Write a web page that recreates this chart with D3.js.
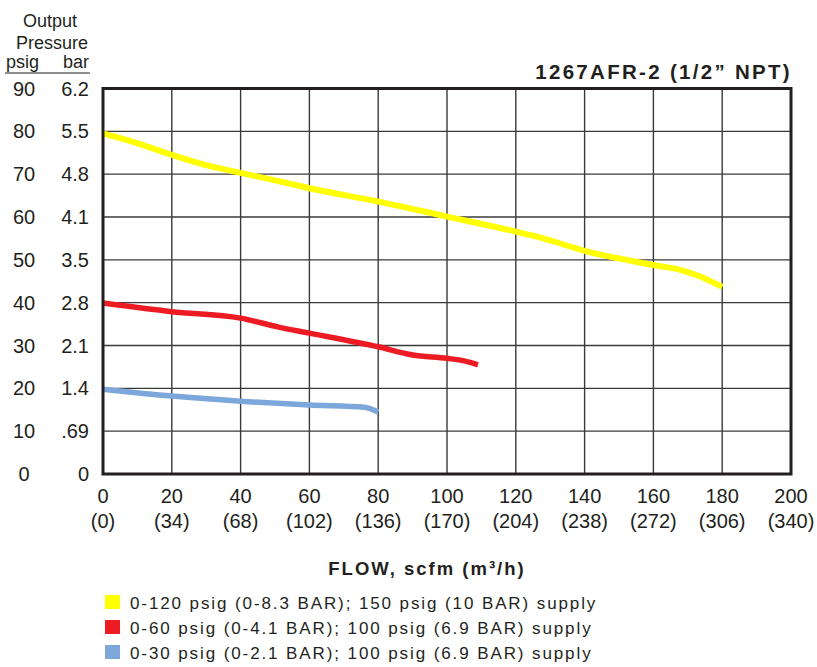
<!DOCTYPE html>
<html>
<head>
<meta charset="utf-8">
<script src="https://cdn.jsdelivr.net/npm/d3@7"></script>
<style>
  body { margin: 0; background: #fff; }
  svg { display: block; font-family: "Liberation Sans", Arial, sans-serif; }
</style>
</head>
<body>
<div id="chart"></div>
<script>
// Flow ticks (scfm) and their m3/h equivalents
var flowTicks = [0, 20, 40, 60, 80, 100, 120, 140, 160, 180, 200];
var flowMetric = ['(0)', '(34)', '(68)', '(102)', '(136)', '(170)', '(204)', '(238)', '(272)', '(306)', '(340)'];

// Pressure ticks (psig) and the bar column
var psigTicks = [0, 10, 20, 30, 40, 50, 60, 70, 80, 90];
var barLabels = ['0', '.69', '1.4', '2.1', '2.8', '3.5', '4.1', '4.8', '5.5', '6.2'];

// Curves: [flow scfm, output psig]
var yellowData = [[0, 79.5], [10, 77.2], [20, 74.5], [30, 72.1], [40, 70.3], [52, 68.2], [60, 66.7],
  [80, 63.6], [100, 60.1], [120, 56.6], [128, 55], [140, 52.1], [160, 48.8], [168, 47.6], [173, 46.3], [180, 43.7]];
var redData = [[0, 39.9], [20, 37.9], [40, 36.4], [51, 34.3], [60, 32.9], [80, 29.7], [90, 27.8],
  [100, 27], [105, 26.4], [109, 25.5]];
var blueData = [[0, 19.8], [20, 18.2], [40, 17], [60, 16.1], [76, 15.6], [80, 14.5]];

var seriesNames = [
  '0-120 psig (0-8.3 BAR); 150 psig (10 BAR) supply',
  '0-60 psig (0-4.1 BAR); 100 psig (6.9 BAR) supply',
  '0-30 psig (0-2.1 BAR); 100 psig (6.9 BAR) supply'
];
var seriesColors = ['#ffff00', '#ed1c24', '#7ba7da'];

var width = 817, height = 667;
var margin = {top: 88.5, left: 103, right: 26, bottom: 193};

var svg = d3.select('#chart').append('svg')
  .attr('width', width)
  .attr('height', height);

var x = d3.scaleLinear().domain([0, 200]).range([margin.left, width - margin.right]);
var y = d3.scaleLinear().domain([0, 90]).range([height - margin.bottom, margin.top]);

// grid
svg.append('g').selectAll('line.v')
  .data(flowTicks.slice(1, -1)).enter()
  .append('line')
    .attr('x1', function(d){ return x(d); }).attr('x2', function(d){ return x(d); })
    .attr('y1', y(0)).attr('y2', y(90))
    .attr('stroke', '#3a3a3a').attr('stroke-width', 1.4);
svg.append('g').selectAll('line.h')
  .data(psigTicks.slice(1, -1)).enter()
  .append('line')
    .attr('y1', function(d){ return y(d); }).attr('y2', function(d){ return y(d); })
    .attr('x1', x(0)).attr('x2', x(200))
    .attr('stroke', '#3a3a3a').attr('stroke-width', 1.4);

// curves
var line = d3.line()
  .x(function(d){ return x(d[0]); })
  .y(function(d){ return y(d[1]); })
  .curve(d3.curveMonotoneX);

[yellowData, redData, blueData].forEach(function(data, i){
  svg.append('path')
    .datum(data)
    .attr('d', line)
    .attr('fill', 'none')
    .attr('stroke', seriesColors[i])
    .attr('stroke-width', i == 0 ? 6 : 5.5)
    .attr('stroke-linecap', 'butt');
});

// frame
svg.append('rect')
  .attr('x', x(0)).attr('y', y(90))
  .attr('width', x(200) - x(0)).attr('height', y(0) - y(90))
  .attr('fill', 'none')
  .attr('stroke', '#231f20')
  .attr('stroke-width', 3);

// x axis labels
var xl = svg.append('g').attr('fill', '#231f20').style('font-size', '20px').attr('text-anchor', 'middle');
xl.selectAll('text.flow')
  .data(flowTicks).enter()
  .append('text')
    .attr('x', function(d){ return x(d); })
    .attr('y', 503)
    .text(function(d){ return d; });
xl.selectAll('text.metric')
  .data(flowTicks).enter()
  .append('text')
    .attr('x', function(d){ return x(d); })
    .attr('y', 528)
    .text(function(d, i){ return flowMetric[i]; });

// y axis labels
var yl = svg.append('g').attr('fill', '#231f20').style('font-size', '20px');
yl.selectAll('text.psig')
  .data(psigTicks).enter()
  .append('text')
    .attr('x', 24)
    .attr('y', function(d){ return y(d) + 7; })
    .attr('text-anchor', 'middle')
    .text(function(d){ return d; });
yl.selectAll('text.bar')
  .data(psigTicks).enter()
  .append('text')
    .attr('x', 89)
    .attr('y', function(d){ return y(d) + 7; })
    .attr('text-anchor', 'end')
    .text(function(d, i){ return barLabels[i]; });

// y axis heading
var head = svg.append('g').attr('fill', '#231f20').style('font-size', '18px');
head.append('text').attr('x', 50).attr('y', 27).attr('text-anchor', 'middle').text('Output');
head.append('text').attr('x', 52).attr('y', 49).attr('text-anchor', 'middle').text('Pressure');
head.append('text').attr('x', 6).attr('y', 68).text('psig');
head.append('text').attr('x', 89).attr('y', 68).attr('text-anchor', 'end').text('bar');
head.append('line')
  .attr('x1', 5).attr('x2', 90).attr('y1', 73).attr('y2', 73)
  .attr('stroke', '#231f20').attr('stroke-width', 1.2);

// title
svg.append('text')
  .attr('x', x(200) + 1).attr('y', 79)
  .attr('text-anchor', 'end')
  .attr('fill', '#231f20')
  .style('font-size', '20.5px').style('font-weight', 'bold').style('letter-spacing', '2.3px')
  .text('1267AFR-2 (1/2” NPT)');

// x axis title
svg.append('text')
  .attr('x', 427).attr('y', 575)
  .attr('text-anchor', 'middle')
  .attr('fill', '#231f20')
  .style('font-size', '18.5px').style('font-weight', 'bold').style('letter-spacing', '2px')
  .text('FLOW, scfm (m³/h)');

// legend
var legend = svg.append('g').selectAll('g.key')
  .data(seriesNames).enter()
  .append('g')
    .attr('class', 'key')
    .attr('transform', function(d, i){ return 'translate(105,' + (602 + i * 25) + ')'; });
legend.append('rect')
  .attr('x', 0).attr('y', -7)
  .attr('width', 15).attr('height', 14)
  .attr('fill', function(d, i){ return seriesColors[i]; });
legend.append('text')
  .attr('x', 25).attr('y', 6.5)
  .attr('fill', '#231f20')
  .style('font-size', '17px').style('letter-spacing', '1.9px')
  .text(function(d){ return d; });
</script>
</body>
</html>
